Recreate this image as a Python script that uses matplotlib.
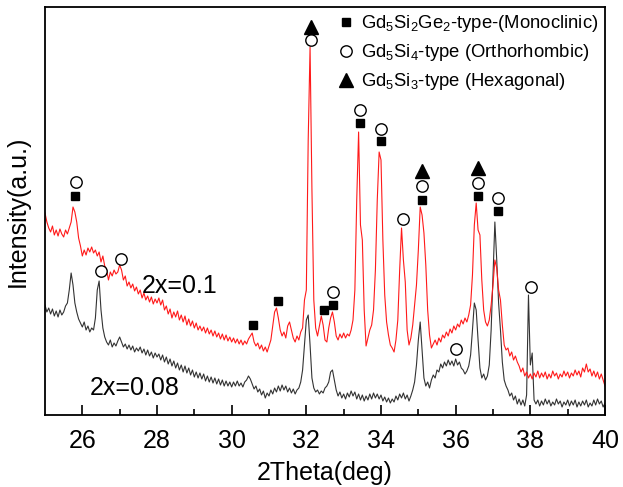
import numpy as np
import matplotlib
matplotlib.use('Agg')
import matplotlib.pyplot as plt

plt.rcParams['font.family'] = ['Liberation Sans', 'DejaVu Sans']
plt.rcParams['mathtext.fontset'] = 'custom'
plt.rcParams['mathtext.rm'] = 'Liberation Sans'
plt.rcParams['mathtext.it'] = 'Liberation Sans:italic'
plt.rcParams['mathtext.default'] = 'regular'

# 2Theta sampling (deg), 0.05 step from 25 to 40
two_theta = np.round(25.0 + 0.05 * np.arange(301), 2)

# sample 2x=0.1 (red), intensity in arbitrary units
red_counts = [
    202, 193, 187, 183, 189, 180, 185, 179, 186, 181, 178, 185, 181, 187, 193, 208, 203, 193, 177, 169,
    159, 165, 160, 167, 163, 168, 162, 165, 159, 163, 153, 159, 149, 145, 135, 143, 139, 145, 141, 143,
    150, 145, 135, 139, 129, 133, 127, 131, 124, 128, 121, 125, 117, 122, 115, 119, 113, 118, 111, 116,
    112, 117, 110, 115, 105, 109, 101, 106, 97, 103, 98, 104, 95, 100, 93, 99, 90, 96, 89, 94,
    87, 92, 85, 89, 84, 88, 82, 87, 81, 85, 79, 84, 78, 82, 76, 81, 75, 80, 74, 78,
    73, 77, 72, 76, 71, 75, 70, 74, 71, 76, 79, 82, 73, 69, 72, 66, 70, 64, 68, 63,
    69, 75, 89, 103, 107, 97, 85, 79, 83, 77, 89, 93, 85, 77, 73, 79, 75, 83, 87, 115,
    125, 275, 368, 225, 115, 87, 79, 89, 99, 90, 75, 73, 87, 97, 103, 93, 79, 75, 81, 77,
    82, 77, 81, 79, 85, 95, 125, 215, 283, 190, 175, 105, 69, 77, 85, 90, 105, 145, 215, 263,
    255, 175, 120, 93, 80, 70, 67, 63, 75, 95, 145, 187, 155, 133, 85, 70, 77, 90, 110, 130,
    165, 208, 200, 182, 150, 105, 80, 67, 71, 75, 70, 77, 73, 80, 77, 83, 79, 86, 82, 89,
    85, 91, 88, 95, 91, 97, 93, 100, 110, 140, 190, 212, 185, 180, 135, 105, 93, 89, 95, 110,
    130, 155, 147, 125, 115, 90, 70, 65, 67, 59, 63, 55, 59, 53, 49, 43, 47, 39, 43, 37,
    41, 36, 42, 38, 44, 37, 42, 38, 43, 36, 41, 37, 44, 39, 42, 36, 41, 38, 44, 39,
    43, 37, 42, 39, 45, 40, 44, 38, 47, 43, 51, 43, 46, 39, 44, 38, 43, 36, 41, 35,
    29,
]

# sample 2x=0.08 (black)
black_counts = [
    110, 103, 107, 101, 106, 99, 104, 98, 105, 100, 103, 109, 112, 125, 142, 130, 112, 103, 96, 92,
    88, 93, 85, 89, 83, 87, 85, 97, 125, 134, 105, 87, 78, 73, 70, 75, 68, 72, 69, 74,
    78, 73, 68, 71, 66, 70, 65, 69, 63, 67, 64, 68, 62, 66, 60, 65, 59, 63, 57, 62,
    58, 61, 55, 60, 53, 58, 51, 56, 49, 54, 47, 52, 45, 50, 43, 49, 42, 47, 40, 45,
    38, 43, 37, 42, 36, 41, 34, 39, 33, 38, 32, 37, 31, 36, 30, 35, 29, 34, 29, 33,
    28, 33, 29, 34, 29, 32, 28, 33, 35, 39, 36, 31, 26, 29, 23, 26, 20, 24, 17, 22,
    19, 25, 21, 27, 23, 29, 24, 30, 25, 29, 23, 27, 22, 26, 21, 25, 27, 33, 45, 70,
    95, 100, 70, 37, 27, 23, 25, 21, 24, 22, 27, 29, 33, 43, 45, 35, 25, 19, 23, 17,
    21, 16, 22, 18, 24, 19, 23, 16, 21, 15, 20, 14, 19, 15, 21, 16, 22, 17, 21, 16,
    20, 14, 18, 13, 17, 12, 16, 13, 19, 15, 21, 17, 22, 16, 20, 14, 19, 25, 33, 50,
    75, 93, 65, 37, 29, 33, 27, 35, 40, 37, 45, 43, 51, 47, 53, 49, 55, 50, 54, 49,
    56, 50, 53, 47, 45, 41, 44, 49, 60, 85, 112, 105, 75, 47, 37, 41, 35, 39, 50, 85,
    140, 193, 155, 112, 85, 53, 35, 29, 25, 19, 22, 15, 19, 11, 16, 10, 15, 9, 20, 120,
    50, 62, 15, 11, 15, 9, 14, 10, 16, 11, 15, 9, 13, 10, 16, 11, 14, 8, 13, 10,
    15, 9, 14, 10, 15, 8, 13, 9, 14, 10, 15, 8, 12, 9, 15, 10, 16, 11, 14, 8,
    12,
]

# phase markers (position, height)
mono_x = [25.8, 30.57, 31.25, 32.46, 32.72, 33.44, 34.01, 35.1, 36.61, 37.13]
mono_y = [219, 90, 114, 105, 110, 292, 274, 215, 219, 204]
ortho_x = [25.83, 26.5, 27.04, 32.72, 32.13, 33.44, 34.01, 34.59, 35.1, 36.01, 36.61, 37.13, 38.02]
ortho_y = [233, 144, 156, 123, 375, 305, 286, 196, 229, 66, 232, 217, 128]
hexa_x = [32.13, 35.1, 36.61]
hexa_y = [388, 244, 247]

labels = ['Gd$_5$Si$_2$Ge$_2$-type-(Monoclinic)',
          'Gd$_5$Si$_4$-type (Orthorhombic)',
          'Gd$_5$Si$_3$-type (Hexagonal)']
sample_labels = ['2x=0.1', '2x=0.08']

fig = plt.figure(figsize=(6.23, 4.87), dpi=100)
ax = fig.add_axes([45 / 623, 72 / 487, 560 / 623, 408 / 487])

ax.plot(two_theta, black_counts, color='#333333', lw=0.8)
ax.plot(two_theta, red_counts, color='#ff1a1a', lw=0.8)

h1, = ax.plot(mono_x, mono_y, ls='none', marker='s', ms=6.2, color='black', label=labels[0])
h2, = ax.plot(ortho_x, ortho_y, ls='none', marker='o', ms=8.2, mfc='white', mec='black',
              mew=1.0, label=labels[1])
h3, = ax.plot(hexa_x, hexa_y, ls='none', marker='^', ms=9.5, color='black', label=labels[2])

ax.text(27.6, 129, sample_labels[0], fontsize=18, va='center', ha='left')
ax.text(26.2, 27, sample_labels[1], fontsize=18, va='center', ha='left')

leg = ax.legend(handles=[h1, h2, h3], loc='upper right', bbox_to_anchor=(1.0, 1.0),
                frameon=False, fontsize=13.3, handlelength=0.9, handletextpad=0.35,
                labelspacing=0.42, borderaxespad=0.15, borderpad=0.2)

ax.set_xlim(25, 40)
ax.set_ylim(0, 408)
ax.set_xticks(range(26, 41, 2))
ax.set_xticks(range(27, 40, 2), minor=True)
ax.set_yticks([])
ax.tick_params(axis='x', which='major', direction='in', length=7, width=1.2, labelsize=18, pad=10)
ax.tick_params(axis='x', which='minor', direction='in', length=4, width=1.2)
for s in ax.spines.values():
    s.set_linewidth(1.3)

ax.set_xlabel('2Theta(deg)', fontsize=18, labelpad=6)
ax.set_ylabel('Intensity(a.u.)', fontsize=18, labelpad=11)

fig.savefig('out.png', dpi=100)
